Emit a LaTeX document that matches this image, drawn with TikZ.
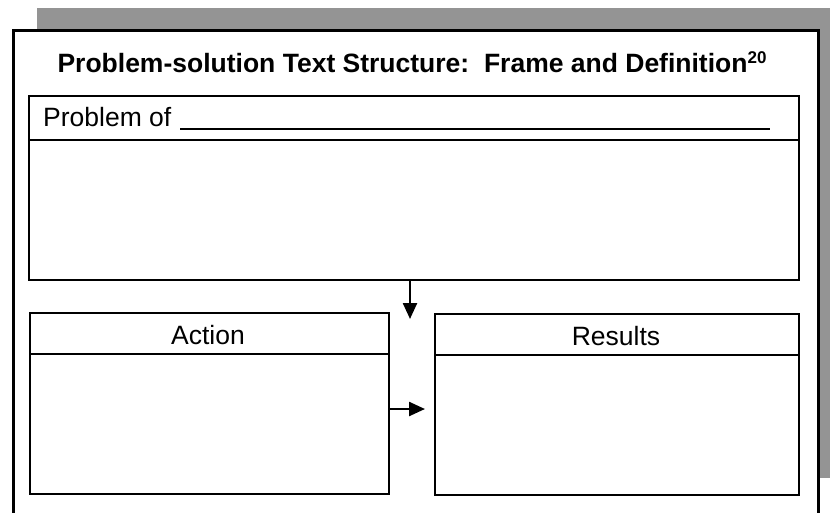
\documentclass[tikz,border=0pt]{standalone}
\usepackage{fontspec}
\setmainfont{Liberation Sans}
\usetikzlibrary{arrows.meta}
\tikzset{
  panel/.style={draw=black, line width=2.2pt, fill=white, inner sep=0pt},
  rule/.style={draw=black, line width=2.2pt},
  link/.style={draw=black, line width=2.4pt, -{Triangle[length=16pt,width=14pt]}},
  headtext/.style={font=\fontsize{26.5}{30}\selectfont, inner sep=0pt, anchor=base},
  titletext/.style={font=\fontsize{26.5}{30}\selectfont\bfseries, inner sep=0pt, anchor=base},
  shadow/.style={fill=black!42, draw=none}
}
\begin{document}
\begin{tikzpicture}[x=1pt, y=-1pt]
  \useasboundingbox (0,0) rectangle (830,512);
  \clip (0,0) rectangle (830,512);

  % drop shadow behind the frame
  \fill[shadow] (37,8) rectangle (835,29);
  \fill[shadow] (817,8) rectangle (835,478);

  % outer frame
  \node[panel, line width=2.6pt, minimum width=805pt, minimum height=520pt, anchor=north west] (frame) at (12,29) {};

  % title
  \node[titletext] (title) at (412,72) {Problem-solution Text Structure:\ \ Frame and Definition\raisebox{9pt}{\fontsize{17}{17}\selectfont 20}};

  % problem panel
  \node[panel, minimum width=770pt, minimum height=184pt, anchor=north west] (prob) at (28,95) {};
  \draw[rule] ([yshift=-45pt]prob.north west) -- ([yshift=-45pt]prob.north east);
  \node[headtext, anchor=base west] (probtext) at (43,126) {Problem of};
  \coordinate (lineL) at (180,129);
  \coordinate (lineR) at (770,129);
  \draw[line width=1.6pt] (lineL) -- (lineR);

  % action panel
  \node[panel, minimum width=359pt, minimum height=181pt, anchor=north west] (act) at (29,312) {};
  \draw[rule] ([yshift=-42pt]act.north west) -- ([yshift=-42pt]act.north east);
  \node[headtext] (acttext) at (208,344) {Action};

  % results panel
  \node[panel, minimum width=364pt, minimum height=181pt, anchor=north west] (res) at (434,313) {};
  \draw[rule] ([yshift=-42pt]res.north west) -- ([yshift=-42pt]res.north east);
  \node[headtext] (restext) at (616,345) {Results};

  % connectors
  \coordinate (downtip) at (410,319);
  \draw[link] (prob.south -| downtip) -- (downtip);
  \coordinate (righttip) at (425,409);
  \draw[link] (act.east |- righttip) -- (righttip);
\end{tikzpicture}
\end{document}
